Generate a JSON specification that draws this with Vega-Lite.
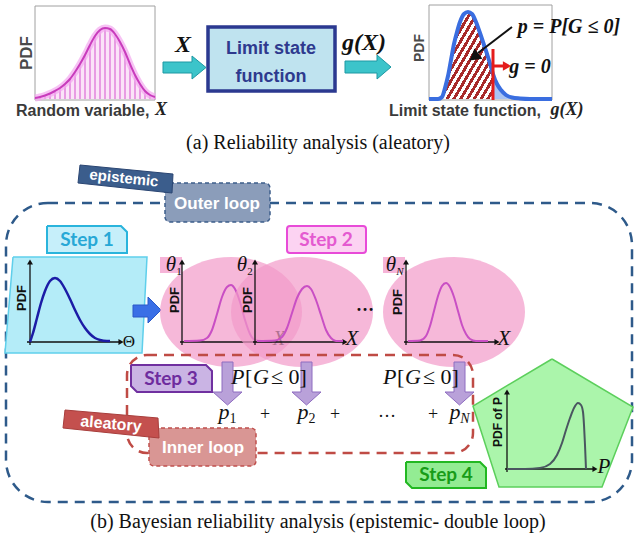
{
"$schema":"https://vega.github.io/schema/vega-lite/v6.json",
"width":636,"height":540,"padding":0,"autosize":{"type":"none"},
"background":"white",
"config":{"view":{"stroke":null}},
"datasets":{
"c1":[{"x":35,"y":98},{"x":40,"y":97},{"x":45,"y":95.5},{"x":50,"y":93.5},{"x":55,"y":91},{"x":60,"y":88},{"x":65,"y":84},{"x":70,"y":79},{"x":75,"y":72},{"x":80,"y":64},{"x":85,"y":55},{"x":90,"y":45},{"x":95,"y":36},{"x":100,"y":30},{"x":105,"y":28},{"x":110,"y":29},{"x":115,"y":34},{"x":120,"y":42},{"x":125,"y":52},{"x":130,"y":64},{"x":135,"y":75},{"x":140,"y":84},{"x":145,"y":91},{"x":150,"y":95},{"x":155,"y":97}],
"c2":[{"x":429,"y":99},{"x":438,"y":99},{"x":442,"y":97},{"x":445,"y":88},{"x":448,"y":76},{"x":451,"y":60},{"x":454,"y":44},{"x":457,"y":32},{"x":460,"y":22},{"x":464,"y":14},{"x":468,"y":12},{"x":472,"y":14},{"x":476,"y":22},{"x":480,"y":33},{"x":484,"y":45},{"x":488,"y":57},{"x":491,"y":67},{"x":493,"y":74},{"x":497,"y":84},{"x":501,"y":90},{"x":506,"y":95},{"x":512,"y":97.5},{"x":520,"y":98.5},{"x":530,"y":99},{"x":552,"y":99}],
"s1":[{"x":30,"y":342},{"x":33,"y":333},{"x":37,"y":318},{"x":41,"y":303},{"x":45,"y":291},{"x":50,"y":281},{"x":55,"y":278},{"x":60,"y":281},{"x":65,"y":289},{"x":70,"y":299},{"x":75,"y":310},{"x":80,"y":320},{"x":85,"y":328},{"x":90,"y":334},{"x":95,"y":338},{"x":100,"y":340},{"x":107,"y":341},{"x":110,"y":341}],
"m1":[{"x":184,"y":341},{"x":200,"y":340.5},{"x":207,"y":338},{"x":212,"y":330},{"x":217,"y":314},{"x":222,"y":297},{"x":227,"y":287},{"x":231,"y":285},{"x":235,"y":289},{"x":240,"y":302},{"x":245,"y":320},{"x":250,"y":334},{"x":255,"y":340},{"x":262,"y":341},{"x":272,"y":341}],
"m23":[{"id":2,"x":257,"y":341},{"id":2,"x":275,"y":340.5},{"id":2,"x":282,"y":337},{"id":2,"x":287,"y":328},{"id":2,"x":292,"y":313},{"id":2,"x":297,"y":298},{"id":2,"x":302,"y":289},{"id":2,"x":307,"y":286},{"id":2,"x":311,"y":289},{"id":2,"x":316,"y":300},{"id":2,"x":321,"y":315},{"id":2,"x":326,"y":330},{"id":2,"x":331,"y":338},{"id":2,"x":336,"y":341},{"id":2,"x":343,"y":341},
{"id":3,"x":408,"y":341},{"id":3,"x":420,"y":340.5},{"id":3,"x":426,"y":336},{"id":3,"x":430,"y":326},{"id":3,"x":434,"y":311},{"id":3,"x":438,"y":296},{"id":3,"x":442,"y":286},{"id":3,"x":446,"y":283},{"id":3,"x":450,"y":287},{"id":3,"x":454,"y":297},{"id":3,"x":458,"y":311},{"id":3,"x":462,"y":325},{"id":3,"x":466,"y":334},{"id":3,"x":470,"y":339},{"id":3,"x":476,"y":341},{"id":3,"x":488,"y":341}],
"pp":[{"x":507,"y":469},{"x":525,"y":469},{"x":540,"y":468},{"x":550,"y":464},{"x":557,"y":455},{"x":562,"y":443},{"x":566,"y":430},{"x":570,"y":418},{"x":574,"y":408},{"x":578,"y":403},{"x":581,"y":405},{"x":583,"y":412},{"x":584,"y":425},{"x":585,"y":445},{"x":586,"y":469}]
},
"encoding":{
"x":{"field":"x","type":"quantitative","scale":{"domain":[0,636],"nice":false,"zero":false},"axis":null},
"y":{"field":"y","type":"quantitative","scale":{"domain":[0,540],"nice":false,"zero":false,"reverse":true},"axis":null}
},
"layer":[
{"data":{"values":[{"x":35,"y":6,"x2":155,"y2":100},{"x":429,"y":5,"x2":552,"y2":100}]},"mark":{"type":"rect","fill":"white","stroke":"#a0a0a0","strokeWidth":1},"encoding":{"x2":{"field":"x2"},"y2":{"field":"y2"}}},
{"data":{"name":"c1"},"mark":{"type":"area","fill":"#fbe4f8","interpolate":"monotone"},"encoding":{"y2":{"datum":99}}},
{"data":{"name":"c1"},"mark":{"type":"rule","stroke":"#e89ce3","strokeWidth":2},"encoding":{"y2":{"datum":99}}},
{"data":{"name":"c1"},"mark":{"type":"line","stroke":"#f3a8f0","strokeWidth":7,"opacity":0.7,"interpolate":"monotone"},"encoding":{}},
{"data":{"name":"c1"},"mark":{"type":"line","stroke":"#c83cbc","strokeWidth":2,"interpolate":"monotone"},"encoding":{}},
{"data":{"name":"c2"},"transform":[{"filter":"datum.x >= 493 && datum.x <= 520"}],"mark":{"type":"area","fill":"#a9c3f2","interpolate":"monotone"},"encoding":{"y2":{"datum":99}}},
{"data":{"name":"c2"},"transform":[{"filter":"datum.x >= 442 && datum.x <= 493"}],"mark":{"type":"area","interpolate":"monotone","fill":{"gradient":"linear","x1":0,"y1":0,"x2":1,"y2":1,"stops":[{"offset":0,"color":"#a82a2a"},{"offset":0.0333,"color":"#a82a2a"},{"offset":0.0333,"color":"#ffffff"},{"offset":0.0667,"color":"#ffffff"},{"offset":0.0667,"color":"#a82a2a"},{"offset":0.1,"color":"#a82a2a"},{"offset":0.1,"color":"#ffffff"},{"offset":0.1333,"color":"#ffffff"},{"offset":0.1333,"color":"#a82a2a"},{"offset":0.1667,"color":"#a82a2a"},{"offset":0.1667,"color":"#ffffff"},{"offset":0.2,"color":"#ffffff"},{"offset":0.2,"color":"#a82a2a"},{"offset":0.2333,"color":"#a82a2a"},{"offset":0.2333,"color":"#ffffff"},{"offset":0.2667,"color":"#ffffff"},{"offset":0.2667,"color":"#a82a2a"},{"offset":0.3,"color":"#a82a2a"},{"offset":0.3,"color":"#ffffff"},{"offset":0.3333,"color":"#ffffff"},{"offset":0.3333,"color":"#a82a2a"},{"offset":0.3667,"color":"#a82a2a"},{"offset":0.3667,"color":"#ffffff"},{"offset":0.4,"color":"#ffffff"},{"offset":0.4,"color":"#a82a2a"},{"offset":0.4333,"color":"#a82a2a"},{"offset":0.4333,"color":"#ffffff"},{"offset":0.4667,"color":"#ffffff"},{"offset":0.4667,"color":"#a82a2a"},{"offset":0.5,"color":"#a82a2a"},{"offset":0.5,"color":"#ffffff"},{"offset":0.5333,"color":"#ffffff"},{"offset":0.5333,"color":"#a82a2a"},{"offset":0.5667,"color":"#a82a2a"},{"offset":0.5667,"color":"#ffffff"},{"offset":0.6,"color":"#ffffff"},{"offset":0.6,"color":"#a82a2a"},{"offset":0.6333,"color":"#a82a2a"},{"offset":0.6333,"color":"#ffffff"},{"offset":0.6667,"color":"#ffffff"},{"offset":0.6667,"color":"#a82a2a"},{"offset":0.7,"color":"#a82a2a"},{"offset":0.7,"color":"#ffffff"},{"offset":0.7333,"color":"#ffffff"},{"offset":0.7333,"color":"#a82a2a"},{"offset":0.7667,"color":"#a82a2a"},{"offset":0.7667,"color":"#ffffff"},{"offset":0.8,"color":"#ffffff"},{"offset":0.8,"color":"#a82a2a"},{"offset":0.8333,"color":"#a82a2a"},{"offset":0.8333,"color":"#ffffff"},{"offset":0.8667,"color":"#ffffff"},{"offset":0.8667,"color":"#a82a2a"},{"offset":0.9,"color":"#a82a2a"},{"offset":0.9,"color":"#ffffff"},{"offset":0.9333,"color":"#ffffff"},{"offset":0.9333,"color":"#a82a2a"},{"offset":0.9667,"color":"#a82a2a"},{"offset":0.9667,"color":"#ffffff"},{"offset":1,"color":"#ffffff"}]}},"encoding":{"y2":{"datum":99}}},
{"data":{"name":"c2"},"mark":{"type":"line","stroke":"#3a6ee0","strokeWidth":4,"interpolate":"monotone"},"encoding":{}},
{"data":{"values":[{"x":493,"y":49,"x2":493,"y2":100},{"x":494,"y":66,"x2":504,"y2":66}]},"mark":{"type":"rule","stroke":"#e41c1c","strokeWidth":3},"encoding":{"x2":{"field":"x2"},"y2":{"field":"y2"}}},
{"data":{"values":[{"x":507,"y":66}]},"mark":{"type":"point","shape":"triangle-right","size":90,"filled":true,"fill":"#e41c1c","opacity":1},"encoding":{}},
{"data":{"values":[{"x":512,"y":27,"x2":478,"y2":53}]},"mark":{"type":"rule","stroke":"#111","strokeWidth":2},"encoding":{"x2":{"field":"x2"},"y2":{"field":"y2"}}},
{"data":{"values":[{"x":474,"y":57}]},"mark":{"type":"point","shape":"triangle-up","size":170,"angle":232,"filled":true,"fill":"#111","opacity":1},"encoding":{}},
{"data":{"values":[{"x":27,"y":53,"t":"PDF"}]},"mark":{"type":"text","angle":270,"font":"Liberation Sans","fontWeight":"bold","fontSize":17,"color":"#4a4a4a"},"encoding":{"text":{"field":"t"}}},
{"data":{"values":[{"x":420,"y":48,"t":"PDF"}]},"mark":{"type":"text","angle":270,"font":"Liberation Sans","fontWeight":"bold","fontSize":14,"color":"#4a4a4a"},"encoding":{"text":{"field":"t"}}},
{"data":{"values":[{"x":16,"y":111,"t":"Random variable,"},{"x":389,"y":111,"t":"Limit state function,"}]},"mark":{"type":"text","align":"left","font":"Liberation Sans","fontWeight":"bold","fontSize":16,"color":"#3a3a3a"},"encoding":{"text":{"field":"t"}}},
{"data":{"values":[{"x":161,"y":110,"t":"X"},{"x":567,"y":110,"t":"g(X)"}]},"mark":{"type":"text","font":"Liberation Serif","fontWeight":"bold","fontStyle":"italic","fontSize":18,"color":"#222"},"encoding":{"text":{"field":"t"}}},
{"data":{"values":[{"x":183,"y":45,"t":"X"},{"x":364,"y":43,"t":"g(X)"}]},"mark":{"type":"text","font":"Liberation Serif","fontWeight":"bold","fontStyle":"italic","fontSize":24,"color":"#111"},"encoding":{"text":{"field":"t"}}},
{"data":{"values":[{"x":569,"y":27,"t":"p = P[G ≤ 0]"},{"x":530,"y":67,"t":"g = 0"}]},"mark":{"type":"text","font":"Liberation Serif","fontWeight":"bold","fontStyle":"italic","fontSize":20,"color":"#111"},"encoding":{"text":{"field":"t"}}},
{"data":{"values":[{"id":1,"x":163,"y":62},{"id":1,"x":192,"y":62},{"id":1,"x":192,"y":56},{"id":1,"x":206,"y":67.5},{"id":1,"x":192,"y":79},{"id":1,"x":192,"y":73},{"id":1,"x":163,"y":73},{"id":1,"x":163,"y":62},{"id":2,"x":345,"y":61},{"id":2,"x":377,"y":61},{"id":2,"x":377,"y":55},{"id":2,"x":391,"y":67},{"id":2,"x":377,"y":79},{"id":2,"x":377,"y":73},{"id":2,"x":345,"y":73},{"id":2,"x":345,"y":61}]},"mark":{"type":"line","fill":"#3cc4ca","stroke":"#1d98a3","strokeWidth":1},"encoding":{"detail":{"field":"id"},"order":{"value":null}}},
{"data":{"values":[{"x":208,"y":27,"x2":335,"y2":91}]},"mark":{"type":"rect","fill":"#bfe3ef","stroke":"#2b3990","strokeWidth":3.5},"encoding":{"x2":{"field":"x2"},"y2":{"field":"y2"}}},
{"data":{"values":[{"x":271,"y":49,"t":"Limit state"},{"x":271,"y":77,"t":"function"}]},"mark":{"type":"text","font":"Liberation Sans Narrow, Liberation Sans","fontWeight":"bold","fontSize":18,"color":"#2e3a8e"},"encoding":{"text":{"field":"t"}}},
{"data":{"values":[{"x":318,"y":143,"t":"(a) Reliability analysis (aleatory)"},{"x":318,"y":522,"t":"(b) Bayesian reliability analysis (epistemic- double loop)"}]},"mark":{"type":"text","font":"Liberation Serif","fontSize":20,"color":"#111"},"encoding":{"text":{"field":"t"}}},
{"data":{"values":[{"x":6,"y":203,"x2":632,"y2":502}]},"mark":{"type":"rect","fill":null,"fillOpacity":0,"stroke":"#2e5a8a","strokeWidth":2.5,"strokeDash":[10,7],"cornerRadius":42},"encoding":{"x2":{"field":"x2"},"y2":{"field":"y2"}}},
{"data":{"values":[{"x":165,"y":183,"x2":270,"y2":222}]},"mark":{"type":"rect","fill":"#8b9dba","stroke":"#3d5d8b","strokeWidth":1.5,"strokeDash":[4,3],"cornerRadius":5},"encoding":{"x2":{"field":"x2"},"y2":{"field":"y2"}}},
{"data":{"values":[{"x":217,"y":204,"t":"Outer loop"}]},"mark":{"type":"text","font":"Liberation Sans","fontWeight":"bold","fontSize":17,"color":"white"},"encoding":{"text":{"field":"t"}}},
{"data":{"values":[{"x":80,"y":165},{"x":173,"y":174},{"x":172,"y":193},{"x":78,"y":183},{"x":80,"y":165}]},"mark":{"type":"line","fill":"#3b5d8c","stroke":"#2a4572","strokeWidth":1},"encoding":{"order":{"value":null}}},
{"data":{"values":[{"x":124,"y":178,"t":"epistemic"}]},"mark":{"type":"text","angle":6,"font":"Liberation Sans","fontWeight":"bold","fontSize":15,"color":"white"},"encoding":{"text":{"field":"t"}}},
{"data":{"values":[{"x":47,"y":226},{"x":121,"y":226},{"x":127,"y":232},{"x":127,"y":253},{"x":47,"y":253},{"x":47,"y":226}]},"mark":{"type":"line","fill":"#c6effa","stroke":"#2ab4dc","strokeWidth":2},"encoding":{"order":{"value":null}}},
{"data":{"values":[{"x":87,"y":240,"t":"Step 1"}]},"mark":{"type":"text","font":"Lato","fontWeight":"bold","fontSize":19,"color":"#28a8d6"},"encoding":{"text":{"field":"t"}}},
{"data":{"values":[{"x":13,"y":257},{"x":147,"y":257},{"x":142,"y":353},{"x":5,"y":353},{"x":13,"y":257}]},"mark":{"type":"line","fill":"#b4ecf8","stroke":"#5fcfeb","strokeWidth":1.5},"encoding":{"order":{"value":null}}},
{"data":{"values":[{"x":30,"y":345,"x2":30,"y2":263},{"x":27,"y":342,"x2":120,"y2":342}]},"mark":{"type":"rule","stroke":"#111","strokeWidth":1.3},"encoding":{"x2":{"field":"x2"},"y2":{"field":"y2"}}},
{"data":{"values":[{"x":30,"y":262}]},"mark":{"type":"point","shape":"triangle-up","size":35,"filled":true,"fill":"#111","opacity":1},"encoding":{}},
{"data":{"values":[{"x":121,"y":342}]},"mark":{"type":"point","shape":"triangle-right","size":35,"filled":true,"fill":"#111","opacity":1},"encoding":{}},
{"data":{"values":[{"x":129,"y":342,"t":"Θ"}]},"mark":{"type":"text","font":"Liberation Serif","fontSize":17,"color":"#111"},"encoding":{"text":{"field":"t"}}},
{"data":{"name":"s1"},"mark":{"type":"line","stroke":"#1c1ca6","strokeWidth":2.5,"interpolate":"monotone"},"encoding":{}},
{"data":{"values":[{"x":133,"y":305},{"x":148,"y":305},{"x":148,"y":297},{"x":161,"y":310},{"x":148,"y":323},{"x":148,"y":317},{"x":133,"y":317},{"x":133,"y":305}]},"mark":{"type":"line","fill":"#3a6fe6","stroke":"#2a58c8","strokeWidth":1},"encoding":{"order":{"value":null}}},
{"data":{"values":[{"x":231,"y":312},{"x":454,"y":312}]},"mark":{"type":"point","shape":"M-1,0C-1,-0.428,-0.552,-0.775,0,-0.775C0.552,-0.775,1,-0.428,1,0C1,0.428,0.552,0.775,0,0.775C-0.552,0.775,-1,0.428,-1,0Z","size":20164,"filled":true,"fill":"#f29ac9","opacity":0.7,"strokeWidth":0},"encoding":{}},
{"data":{"values":[{"x":160,"y":257,"x2":182,"y2":273},{"x":383,"y":257,"x2":405,"y2":273}]},"mark":{"type":"rect","fill":"#f6b4d8"},"encoding":{"x2":{"field":"x2"},"y2":{"field":"y2"}}},
{"data":{"values":[{"x":182,"y":345,"x2":182,"y2":263},{"x":180,"y":342,"x2":272,"y2":342}]},"mark":{"type":"rule","stroke":"#111","strokeWidth":1.3},"encoding":{"x2":{"field":"x2"},"y2":{"field":"y2"}}},
{"data":{"values":[{"x":182,"y":262}]},"mark":{"type":"point","shape":"triangle-up","size":35,"filled":true,"fill":"#111","opacity":1},"encoding":{}},
{"data":{"values":[{"x":279,"y":339,"t":"X"}]},"mark":{"type":"text","font":"Liberation Serif","fontStyle":"italic","fontSize":20,"color":"#111"},"encoding":{"text":{"field":"t"}}},
{"data":{"name":"m1"},"mark":{"type":"line","stroke":"#c94fc4","strokeWidth":2,"interpolate":"monotone"},"encoding":{}},
{"data":{"values":[{"x":302,"y":312}]},"mark":{"type":"point","shape":"M-1,0C-1,-0.428,-0.552,-0.775,0,-0.775C0.552,-0.775,1,-0.428,1,0C1,0.428,0.552,0.775,0,0.775C-0.552,0.775,-1,0.428,-1,0Z","size":20164,"filled":true,"fill":"#f29ac9","opacity":0.7,"strokeWidth":0},"encoding":{}},
{"data":{"values":[{"x":255,"y":345,"x2":255,"y2":263},{"x":253,"y":342,"x2":343,"y2":342},{"x":406,"y":345,"x2":406,"y2":263},{"x":404,"y":342,"x2":495,"y2":342}]},"mark":{"type":"rule","stroke":"#111","strokeWidth":1.3},"encoding":{"x2":{"field":"x2"},"y2":{"field":"y2"}}},
{"data":{"values":[{"x":255,"y":262},{"x":406,"y":262}]},"mark":{"type":"point","shape":"triangle-up","size":35,"filled":true,"fill":"#111","opacity":1},"encoding":{}},
{"data":{"values":[{"x":345,"y":342},{"x":497,"y":342}]},"mark":{"type":"point","shape":"triangle-right","size":35,"filled":true,"fill":"#111","opacity":1},"encoding":{}},
{"data":{"name":"m23"},"mark":{"type":"line","stroke":"#c94fc4","strokeWidth":2,"interpolate":"monotone"},"encoding":{"detail":{"field":"id"}}},
{"data":{"values":[{"x":352,"y":339,"t":"X"},{"x":504,"y":339,"t":"X"}]},"mark":{"type":"text","font":"Liberation Serif","fontStyle":"italic","fontSize":21,"color":"#111"},"encoding":{"text":{"field":"t"}}},
{"data":{"values":[{"x":175,"y":300,"t":"PDF"},{"x":248,"y":300,"t":"PDF"},{"x":398,"y":302,"t":"PDF"},{"x":22,"y":298,"t":"PDF"}]},"mark":{"type":"text","angle":270,"font":"Liberation Sans","fontWeight":"bold","fontSize":13,"color":"#111"},"encoding":{"text":{"field":"t"}}},
{"data":{"values":[{"x":171,"y":265,"t":"θ"},{"x":242,"y":265,"t":"θ"},{"x":391,"y":265,"t":"θ"}]},"mark":{"type":"text","font":"Liberation Serif","fontStyle":"italic","fontSize":21,"color":"#111"},"encoding":{"text":{"field":"t"}}},
{"data":{"values":[{"x":179,"y":272,"t":"1"},{"x":250,"y":272,"t":"2"}]},"mark":{"type":"text","font":"Liberation Serif","fontSize":11,"color":"#111"},"encoding":{"text":{"field":"t"}}},
{"data":{"values":[{"x":400,"y":272,"t":"N"}]},"mark":{"type":"text","font":"Liberation Serif","fontStyle":"italic","fontSize":11,"color":"#111"},"encoding":{"text":{"field":"t"}}},
{"data":{"values":[{"x":365,"y":306,"t":"…"}]},"mark":{"type":"text","font":"Liberation Serif","fontWeight":"bold","fontSize":18,"color":"#111"},"encoding":{"text":{"field":"t"}}},
{"data":{"values":[{"x":287,"y":226,"x2":366,"y2":253}]},"mark":{"type":"rect","fill":"#fcd3f2","stroke":"#e84bd8","strokeWidth":2,"cornerRadius":3},"encoding":{"x2":{"field":"x2"},"y2":{"field":"y2"}}},
{"data":{"values":[{"x":326,"y":240,"t":"Step 2"}]},"mark":{"type":"text","font":"Lato","fontWeight":"bold","fontSize":19,"color":"#e45ad0"},"encoding":{"text":{"field":"t"}}},
{"data":{"values":[{"x":127,"y":355,"x2":473,"y2":453}]},"mark":{"type":"rect","fill":null,"fillOpacity":0,"stroke":"#bf4b45","strokeWidth":2.5,"strokeDash":[10,7],"cornerRadius":20},"encoding":{"x2":{"field":"x2"},"y2":{"field":"y2"}}},
{"data":{"values":[{"x":131,"y":365},{"x":206,"y":365},{"x":212,"y":371},{"x":212,"y":392},{"x":137,"y":392},{"x":131,"y":386},{"x":131,"y":365}]},"mark":{"type":"line","fill":"#cab4e4","stroke":"#7030a0","strokeWidth":2},"encoding":{"order":{"value":null}}},
{"data":{"values":[{"x":171,"y":379,"t":"Step 3"}]},"mark":{"type":"text","font":"Lato","fontWeight":"bold","fontSize":19,"color":"#6e2c9e"},"encoding":{"text":{"field":"t"}}},
{"data":{"values":[{"id":1,"x":222,"y":362},{"id":1,"x":233,"y":362},{"id":1,"x":233,"y":392},{"id":1,"x":242,"y":392},{"id":1,"x":227.5,"y":405},{"id":1,"x":213,"y":392},{"id":1,"x":222,"y":392},{"id":1,"x":222,"y":362},{"id":2,"x":301,"y":362},{"id":2,"x":312,"y":362},{"id":2,"x":312,"y":392},{"id":2,"x":321,"y":392},{"id":2,"x":306.5,"y":405},{"id":2,"x":292,"y":392},{"id":2,"x":301,"y":392},{"id":2,"x":301,"y":362},{"id":3,"x":454,"y":362},{"id":3,"x":465,"y":362},{"id":3,"x":465,"y":392},{"id":3,"x":474,"y":392},{"id":3,"x":459.5,"y":405},{"id":3,"x":445,"y":392},{"id":3,"x":454,"y":392},{"id":3,"x":454,"y":362}]},"mark":{"type":"line","fill":"#b9a1d9","stroke":"#8e6cc0","strokeWidth":1},"encoding":{"detail":{"field":"id"},"order":{"value":null}}},
{"data":{"values":[{"x":231,"y":377,"t":"P"},{"x":253,"y":377,"t":"G"},{"x":383,"y":377,"t":"P"},{"x":405,"y":377,"t":"G"}]},"mark":{"type":"text","align":"left","font":"Liberation Serif","fontStyle":"italic","fontSize":22,"color":"#111"},"encoding":{"text":{"field":"t"}}},
{"data":{"values":[{"x":245,"y":377,"t":"["},{"x":271,"y":377,"t":"≤ 0]"},{"x":397,"y":377,"t":"["},{"x":423,"y":377,"t":"≤ 0]"}]},"mark":{"type":"text","align":"left","font":"Liberation Serif","fontSize":22,"color":"#111"},"encoding":{"text":{"field":"t"}}},
{"data":{"values":[{"x":224,"y":412,"t":"p"},{"x":303,"y":412,"t":"p"},{"x":455,"y":412,"t":"p"}]},"mark":{"type":"text","font":"Liberation Serif","fontStyle":"italic","fontSize":22,"color":"#111"},"encoding":{"text":{"field":"t"}}},
{"data":{"values":[{"x":233,"y":419,"t":"1"},{"x":312,"y":419,"t":"2"}]},"mark":{"type":"text","font":"Liberation Serif","fontSize":14,"color":"#111"},"encoding":{"text":{"field":"t"}}},
{"data":{"values":[{"x":465,"y":419,"t":"N"}]},"mark":{"type":"text","font":"Liberation Serif","fontStyle":"italic","fontSize":14,"color":"#111"},"encoding":{"text":{"field":"t"}}},
{"data":{"values":[{"x":265,"y":415,"t":"+"},{"x":335,"y":415,"t":"+"},{"x":433,"y":415,"t":"+"},{"x":387,"y":412,"t":"…"}]},"mark":{"type":"text","font":"Liberation Serif","fontSize":18,"color":"#111"},"encoding":{"text":{"field":"t"}}},
{"data":{"values":[{"x":149,"y":428,"x2":256,"y2":466}]},"mark":{"type":"rect","fill":"#d99694","stroke":"#c0504d","strokeWidth":1.5,"strokeDash":[4,3],"cornerRadius":5},"encoding":{"x2":{"field":"x2"},"y2":{"field":"y2"}}},
{"data":{"values":[{"x":203,"y":448,"t":"Inner loop"}]},"mark":{"type":"text","font":"Liberation Sans","fontWeight":"bold","fontSize":17,"color":"white"},"encoding":{"text":{"field":"t"}}},
{"data":{"values":[{"x":65,"y":410},{"x":158,"y":418},{"x":159,"y":438},{"x":63,"y":428},{"x":65,"y":410}]},"mark":{"type":"line","fill":"#c4504e","stroke":"#a83e3c","strokeWidth":1},"encoding":{"order":{"value":null}}},
{"data":{"values":[{"x":111,"y":424,"t":"aleatory"}]},"mark":{"type":"text","angle":5,"font":"Liberation Sans","fontWeight":"bold","fontSize":16,"color":"white"},"encoding":{"text":{"field":"t"}}},
{"data":{"values":[{"x":552,"y":359},{"x":633,"y":407},{"x":602,"y":487},{"x":499,"y":487},{"x":473,"y":406},{"x":552,"y":359}]},"mark":{"type":"line","fill":"#abf5ab","stroke":"#5ccf5c","strokeWidth":1.5},"encoding":{"order":{"value":null}}},
{"data":{"values":[{"x":507,"y":472,"x2":507,"y2":393},{"x":505,"y":469,"x2":593,"y2":469}]},"mark":{"type":"rule","stroke":"#111","strokeWidth":1.3},"encoding":{"x2":{"field":"x2"},"y2":{"field":"y2"}}},
{"data":{"values":[{"x":507,"y":392}]},"mark":{"type":"point","shape":"triangle-up","size":35,"filled":true,"fill":"#111","opacity":1},"encoding":{}},
{"data":{"values":[{"x":595,"y":469}]},"mark":{"type":"point","shape":"triangle-right","size":35,"filled":true,"fill":"#111","opacity":1},"encoding":{}},
{"data":{"values":[{"x":604,"y":467,"t":"P"}]},"mark":{"type":"text","font":"Liberation Serif","fontStyle":"italic","fontSize":21,"color":"#111"},"encoding":{"text":{"field":"t"}}},
{"data":{"values":[{"x":498,"y":422,"t":"PDF of P"}]},"mark":{"type":"text","angle":270,"font":"Liberation Sans","fontWeight":"bold","fontSize":12,"color":"#111"},"encoding":{"text":{"field":"t"}}},
{"data":{"name":"pp"},"mark":{"type":"line","stroke":"#4a5660","strokeWidth":2,"interpolate":"monotone"},"encoding":{"order":{"value":null}}},
{"data":{"values":[{"x":406,"y":462},{"x":480,"y":462},{"x":486,"y":468},{"x":486,"y":488},{"x":412,"y":488},{"x":406,"y":482},{"x":406,"y":462}]},"mark":{"type":"line","fill":"#93ec93","stroke":"#22b822","strokeWidth":2},"encoding":{"order":{"value":null}}},
{"data":{"values":[{"x":446,"y":475,"t":"Step 4"}]},"mark":{"type":"text","font":"Lato","fontWeight":"bold","fontSize":19,"color":"#189c18"},"encoding":{"text":{"field":"t"}}}
]
}
